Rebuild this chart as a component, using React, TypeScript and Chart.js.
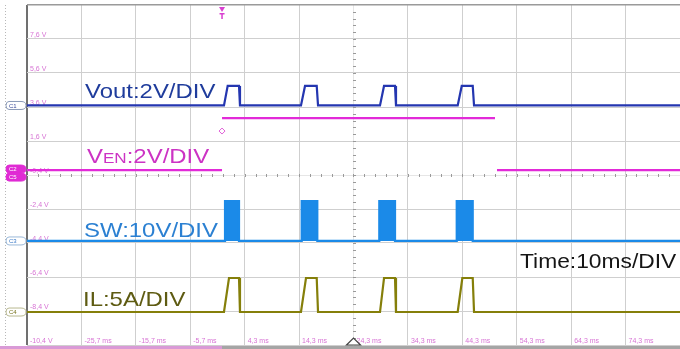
import React, { useEffect, useRef } from 'react';
import { Chart, registerables } from 'chart.js';
Chart.register(...registerables);

// Graticule (ms / V on the screen scale)
const xGrid = [-35.7, -25.7, -15.7, -5.7, 4.3, 14.3, 24.3, 34.3, 44.3, 54.3, 64.3, 74.3, 84.3];
const xTickLabels = ['', '-25,7 ms', '-15,7 ms', '-5,7 ms', '4,3 ms', '14,3 ms', '24,3 ms', '34,3 ms', '44,3 ms', '54,3 ms', '64,3 ms', '74,3 ms', ''];
const yGrid = [9.6, 7.6, 5.6, 3.6, 1.6, -0.4, -2.4, -4.4, -6.4, -8.4, -10.4];
const yTickLabels = ['', '7,6 V', '5,6 V', '3,6 V', '1,6 V', '-0,4 V', '-2,4 V', '-4,4 V', '-6,4 V', '-8,4 V', '-10,4 V'];

// Vout (C1)
const vOutTime = [-35.7, 0.5, 1.18, 3.26, 3.44, 14.65, 15.39, 17.54, 17.78, 29.17, 29.91, 31.93, 32.11, 43.45, 44.19, 46.21, 46.45, 84.3];
const vOutLevel = [3.69, 3.69, 4.84, 4.84, 3.69, 3.69, 4.84, 4.84, 3.69, 3.69, 4.84, 4.84, 3.69, 3.69, 4.84, 4.84, 3.69, 3.69];

// VEN (C2)
const venTime = [-35.7, 0.14, 0.14, 0.14, 50.3, 50.3, 50.67, 84.3];
const venLevel = [-0.11, -0.11, null, 2.95, 2.95, null, -0.11, -0.11];

// SW (C3)
const swTime = [-35.7, 0.69, 0.69, 3.26, 3.26, 14.78, 14.78, 17.65, 17.65, 29.04, 29.04, 31.93, 31.93, 43.27, 43.27, 46.21, 46.21, 84.3];
const swLevel = [-4.28, -4.28, -1.93, -1.93, -4.28, -4.28, -1.93, -1.93, -4.28, -4.28, -1.93, -1.93, -4.28, -4.28, -1.93, -1.93, -4.28, -4.28];
const swBase = -4.28;

// IL (C4)
const ilTime = [-35.7, 0.5, 1.42, 3.26, 3.44, 14.65, 15.57, 17.54, 17.78, 29.17, 29.91, 31.93, 32.11, 43.45, 44.3, 46.21, 46.45, 84.3];
const ilLevel = [-8.46, -8.46, -6.46, -6.46, -8.46, -8.46, -6.46, -6.46, -8.46, -8.46, -6.46, -6.46, -8.46, -8.46, -6.46, -6.46, -8.46, -8.46];

const triggerTime = 0.14;

const toPts = (xs: number[], ys: (number | null)[]) => xs.map((x, i) => ({ x, y: ys[i] }));

const FONT = '"Liberation Sans", Arial, sans-serif';
const SX = 1.14;

function stretchText(ctx: CanvasRenderingContext2D, text: string, x: number, y: number, size: number, color: string) {
  ctx.save();
  ctx.font = `${size}px ${FONT}`;
  ctx.fillStyle = color;
  ctx.textBaseline = 'alphabetic';
  ctx.textAlign = 'left';
  ctx.translate(x, y);
  ctx.scale(SX, 1);
  ctx.fillText(text, 0, 0);
  const w = ctx.measureText(text).width * SX;
  ctx.restore();
  return w;
}

function tag(ctx: CanvasRenderingContext2D, y: number, label: string, stroke: string, fill: string | null, textColor: string) {
  const x0 = 6, x1 = 26, h = 8;
  ctx.save();
  ctx.beginPath();
  ctx.moveTo(x0 + 3, y - h / 2);
  ctx.lineTo(x1 - 5, y - h / 2);
  ctx.quadraticCurveTo(x1, y - h / 2, x1, y);
  ctx.quadraticCurveTo(x1, y + h / 2, x1 - 5, y + h / 2);
  ctx.lineTo(x0 + 3, y + h / 2);
  ctx.quadraticCurveTo(x0, y + h / 2, x0, y);
  ctx.quadraticCurveTo(x0, y - h / 2, x0 + 3, y - h / 2);
  ctx.closePath();
  if (fill) { ctx.fillStyle = fill; ctx.fill(); }
  ctx.strokeStyle = stroke;
  ctx.lineWidth = 1;
  ctx.stroke();
  ctx.font = `6px ${FONT}`;
  ctx.fillStyle = textColor;
  ctx.textBaseline = 'middle';
  ctx.fillText(label, x0 + 3, y + 0.5);
  ctx.restore();
}

const scopePlugin = {
  id: 'scopeDecor',
  beforeDatasetsDraw(chart: any) {
    const { ctx, scales, chartArea } = chart;
    const xs = scales.x, ys = scales.y;
    ctx.save();
    // centre graticule minor ticks
    const cx = Math.round(xs.getPixelForValue(xGrid[6])) + 0.5;
    const cy = Math.round(ys.getPixelForValue(yGrid[5])) + 0.5;
    const stepY = (ys.getPixelForValue(yGrid[1]) - ys.getPixelForValue(yGrid[0])) / 5;
    const stepX = (xs.getPixelForValue(xGrid[1]) - xs.getPixelForValue(xGrid[0])) / 5;
    ctx.strokeStyle = '#9a9a9a';
    ctx.lineWidth = 1;
    ctx.beginPath();
    for (let y = chartArea.top + stepY; y < chartArea.bottom - 1; y += stepY) {
      ctx.moveTo(cx - 1.5, Math.round(y) + 0.5);
      ctx.lineTo(cx + 1.5, Math.round(y) + 0.5);
    }
    for (let x = chartArea.left + stepX; x < chartArea.right - 1; x += stepX) {
      ctx.moveTo(Math.round(x) + 0.5, cy - 1.5);
      ctx.lineTo(Math.round(x) + 0.5, cy + 1.5);
    }
    ctx.stroke();

    ctx.font = `7px ${FONT}`;
    ctx.fillStyle = '#d774d4';
    ctx.textBaseline = 'alphabetic';
    yGrid.forEach((v, i) => {
      if (!yTickLabels[i]) return;
      ctx.fillText(yTickLabels[i], xs.left + 3, ys.getPixelForValue(v) - 2.5);
    });
    xGrid.forEach((v, i) => {
      if (!xTickLabels[i]) return;
      ctx.fillText(xTickLabels[i], xs.getPixelForValue(v) + 3, ys.bottom - 2);
    });
    ctx.restore();
  },
  afterDraw(chart: any) {
    const { ctx, scales, chartArea } = chart;
    const xs = scales.x, ys = scales.y;
    ctx.save();
    // left dotted rail
    ctx.strokeStyle = '#b8b8b8';
    ctx.setLineDash([1, 2]);
    ctx.lineWidth = 1;
    ctx.beginPath();
    ctx.moveTo(5.5, chartArea.top);
    ctx.lineTo(5.5, chartArea.bottom);
    ctx.stroke();
    ctx.setLineDash([]);

    // channel tags
    tag(ctx, ys.getPixelForValue(vOutLevel[0] as number), 'C1', '#8a9ab8', null, '#3a4a9a');
    tag(ctx, ys.getPixelForValue(venLevel[0] as number) - 1, 'C2', '#e02bd4', '#e02bd4', '#ffffff');
    tag(ctx, ys.getPixelForValue(venLevel[0] as number) + 7, 'C5', '#e02bd4', '#e02bd4', '#ffffff');
    tag(ctx, ys.getPixelForValue(swBase), 'C3', '#9ab8d8', null, '#3a7ac8');
    tag(ctx, ys.getPixelForValue(ilLevel[0] as number), 'C4', '#b8b890', null, '#7a7620');

    // trigger marker
    const tx = xs.getPixelForValue(triggerTime);
    ctx.fillStyle = '#d83fd0';
    ctx.beginPath();
    ctx.moveTo(tx - 3, chartArea.top + 2);
    ctx.lineTo(tx + 3, chartArea.top + 2);
    ctx.lineTo(tx, chartArea.top + 7);
    ctx.closePath();
    ctx.fill();
    ctx.fillRect(tx - 2.5, chartArea.top + 8, 5, 1.5);
    ctx.fillRect(tx - 0.75, chartArea.top + 8, 1.5, 6);

    // enable diamond
    const dy = ys.getPixelForValue(venLevel[3] as number) + 13;
    ctx.strokeStyle = '#e060d8';
    ctx.lineWidth = 1;
    ctx.beginPath();
    ctx.moveTo(tx, dy - 3);
    ctx.lineTo(tx + 3, dy);
    ctx.lineTo(tx, dy + 3);
    ctx.lineTo(tx - 3, dy);
    ctx.closePath();
    ctx.stroke();

    // bottom status bar
    ctx.fillStyle = '#a5a5a5';
    ctx.fillRect(0, chartArea.bottom + 1, chart.width, chart.height - chartArea.bottom - 1);
    ctx.fillStyle = '#d99ad6';
    ctx.fillRect(0, chartArea.bottom + 1, tx, chart.height - chartArea.bottom - 1);

    // center time marker
    const cx = xs.getPixelForValue(xGrid[6]);
    ctx.strokeStyle = '#444';
    ctx.lineWidth = 1.2;
    ctx.fillStyle = '#ffffff';
    ctx.beginPath();
    ctx.moveTo(cx - 7, chartArea.bottom);
    ctx.lineTo(cx, chartArea.bottom - 7);
    ctx.lineTo(cx + 7, chartArea.bottom);
    ctx.closePath();
    ctx.fill();
    ctx.stroke();

    // channel captions
    stretchText(ctx, 'Vout:2V/DIV', 85, 98, 21, '#1f3c9c');
    let x = 87;
    x += stretchText(ctx, 'V', x, 163, 21, '#cc33c4');
    x += stretchText(ctx, 'EN', x, 163, 15, '#cc33c4');
    stretchText(ctx, ':2V/DIV', x, 163, 21, '#cc33c4');
    stretchText(ctx, 'SW:10V/DIV', 84, 237, 21, '#2b80d2');
    stretchText(ctx, 'IL:5A/DIV', 83, 306, 21, '#5e5b12');
    stretchText(ctx, 'Time:10ms/DIV', 520, 268, 20, '#151515');
    ctx.restore();
  },
};

export default function App() {
  const ref = useRef<HTMLCanvasElement | null>(null);
  useEffect(() => {
    document.body.style.margin = '0';
    const canvas = ref.current!;
    const chart = new Chart(canvas, {
      type: 'line',
      data: {
        datasets: [
          { label: 'Vout', data: toPts(vOutTime, vOutLevel), borderColor: '#2436b0', borderWidth: 2.2, pointRadius: 0, fill: false, tension: 0 },
          { label: 'VEN', data: toPts(venTime, venLevel), borderColor: '#e22ad8', borderWidth: 2.2, pointRadius: 0, fill: false, tension: 0, spanGaps: false },
          { label: 'SW', data: toPts(swTime, swLevel), borderColor: '#1b8ae8', backgroundColor: '#1b8ae8', borderWidth: 2.2, pointRadius: 0, fill: { value: swBase }, tension: 0 },
          { label: 'IL', data: toPts(ilTime, ilLevel), borderColor: '#857f0a', borderWidth: 2.2, pointRadius: 0, fill: false, tension: 0 },
        ] as any,
      },
      options: {
        animation: false,
        responsive: false,
        devicePixelRatio: 1,
        layout: { padding: { left: 27, top: 5, right: 0, bottom: 4 } },
        plugins: { legend: { display: false }, tooltip: { enabled: false } },
        scales: {
          x: {
            type: 'linear',
            min: xGrid[0],
            max: xGrid[xGrid.length - 1],
            afterBuildTicks: (s: any) => { s.ticks = xGrid.map((v) => ({ value: v })); },
            ticks: { display: false },
            border: { display: false },
            grid: {
              drawTicks: false,
              color: (c: any) => (c.index === 0 ? '#707070' : c.index === 6 ? '#e6e6e6' : c.index === 12 ? 'rgba(0,0,0,0)' : '#cfcfcf'),
              lineWidth: (c: any) => (c.index === 0 ? 2 : 1),
            } as any,
          },
          y: {
            type: 'linear',
            min: yGrid[yGrid.length - 1],
            max: yGrid[0],
            afterBuildTicks: (s: any) => { s.ticks = yGrid.map((v) => ({ value: v })); },
            ticks: { display: false },
            border: { display: false },
            grid: {
              drawTicks: false,
              color: (c: any) => (c.index === 0 ? '#9a9a9a' : c.index === 5 ? '#e6e6e6' : '#cfcfcf'),
              lineWidth: (c: any) => (c.index === 0 ? 1.5 : 1),
            } as any,
          },
        },
      },
      plugins: [scopePlugin],
    });
    return () => chart.destroy();
  }, []);
  return (
    <div style={{ width: 680, height: 349, background: '#ffffff' }}>
      <canvas ref={ref} width={680} height={349} style={{ display: 'block' }} />
    </div>
  );
}
